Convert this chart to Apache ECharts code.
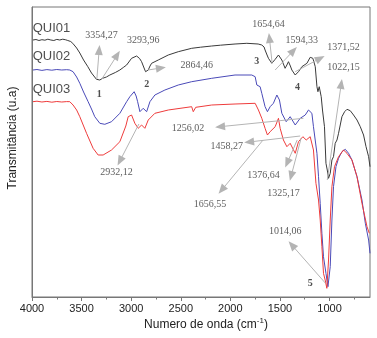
<!DOCTYPE html>
<html><head><meta charset="utf-8">
<script src="https://cdn.jsdelivr.net/npm/echarts@6/dist/echarts.min.js"></script>
<style>html,body{margin:0;padding:0;background:#fff}#c{width:377px;height:338px}</style>
</head><body><div id="c"></div>
<script>
// Wavenumber ticks (cm-1)
var xTicks = [4000, 3500, 3000, 2500, 2000, 1500, 1000];
var xMinorTicks = [3750, 3250, 2750, 2250, 1750, 1250, 750];
var seriesNames = ['QUI01', 'QUI02', 'QUI03'];
// [wavenumber, transmittance (arbitrary units, offset spectra)]
var qui01 = [[3990,257],[3960,257.5],[3930,256.5],[3900,257.3],[3870,256.8],[3840,257.8],[3810,257],[3780,256.5],[3750,257.6],[3720,257],[3690,257.8],[3660,257.2],[3639,256.5],[3610,255.5],[3589,253.7],[3550,249],[3518,244],[3480,237],[3437,230.3],[3400,224],[3350,217.7],[3330,218.7],[3316,217],[3300,218.5],[3289,218.7],[3250,220],[3215,222],[3160,224.5],[3114,227],[3080,229.5],[3046,232],[2996,238.7],[2945,241],[2915,238.5],[2895,235.3],[2870,229],[2855,225.3],[2840,226],[2828,227],[2810,231],[2794,233.7],[2727,237],[2626,242],[2525,245.3],[2390,248.7],[2300,249.8],[2188,251],[2100,251.8],[1953,253],[1834,253.7],[1720,253],[1683,252],[1660,250],[1650,247],[1630,242],[1616,238.7],[1582,233.7],[1548,237.7],[1515,242],[1495,240],[1481,237],[1448,228.7],[1430,232],[1414,235.3],[1395,231],[1380,227],[1346,222],[1330,223],[1313,225.3],[1279,230.3],[1228,233.7],[1195,239.7],[1168,238.7],[1144,230.3],[1127,210.3],[1117,205.3],[1104,210.3],[1084,200.3],[1071,187],[1051,170.3],[1036,133.7],[1023,127],[1010,118.7],[993,123.7],[976,137],[960,140.3],[943,153.7],[925,157],[909,163.7],[892,172],[875,180.3],[848,185.3],[824,187.7],[791,186.3],[758,182],[723,177],[690,170.3],[657,162],[632,150.3],[606,140.3],[592,130.3]];
var qui02 = [[3990,227],[3950,227.5],[3900,226.6],[3850,227.4],[3800,226.8],[3750,227.5],[3700,227],[3650,227.3],[3619,227],[3586,225.3],[3550,220],[3518,213.7],[3480,205],[3434,195.3],[3400,188],[3367,180.3],[3316,173.7],[3266,172.7],[3198,175.3],[3114,183.7],[3046,195.3],[3013,200.3],[2970,205.3],[2950,201],[2935,195.3],[2912,185.3],[2879,188.7],[2844,185.3],[2811,195.3],[2761,202],[2660,207],[2525,212],[2390,215.3],[2188,218.7],[1953,222],[1784,222],[1750,220.3],[1733,212],[1700,210.3],[1683,203.7],[1650,190.3],[1626,185.3],[1599,190.3],[1566,193.7],[1531,202],[1505,197],[1481,183.7],[1437,175.3],[1397,180.3],[1346,172],[1296,178.7],[1245,182],[1212,187],[1178,183.7],[1162,170.3],[1127,143.7],[1111,120.3],[1094,93.7],[1077,63.7],[1061,40.3],[1036,23.7],[1016,10.3],[993,30.3],[976,77],[960,110.3],[935,130.3],[909,138.7],[875,145.3],[841,147.7],[808,143.7],[774,137],[723,120.3],[673,97],[639,73.7],[606,57],[592,43.7]];
var qui03 = [[3990,195.3],[3950,195.8],[3900,195],[3850,195.6],[3800,194.8],[3750,195.5],[3700,195],[3650,195.4],[3619,195.3],[3586,192],[3550,187],[3518,180.3],[3450,163.7],[3384,148.7],[3333,142],[3283,142],[3198,147],[3114,155.3],[3054,171],[3030,180.3],[2996,182],[2963,173.7],[2929,168.7],[2895,172],[2862,168.7],[2828,177],[2761,183.7],[2626,187],[2390,190.3],[2374,185.3],[2349,189.7],[2188,192],[1953,193],[1750,193.7],[1717,187],[1683,178.7],[1650,168.7],[1626,162],[1599,165.3],[1548,170.3],[1515,178.7],[1498,168.7],[1465,157],[1430,150.3],[1397,153.7],[1346,143.7],[1313,155.3],[1269,160.3],[1235,157],[1195,160.3],[1162,147],[1137,113.7],[1111,97],[1094,77],[1077,50.3],[1061,23.7],[1044,17],[1027,8.7],[1010,37],[993,77],[976,110.3],[950,130.3],[909,140.3],[859,147],[824,143.7],[774,137],[723,120.3],[673,93.7],[622,70.3],[599,63.7]];
// Peak annotations: text and where the text sits [wavenumber, value]
var peakTexts = ['3354,27','3293,96','2864,46','1654,64','1594,33','1371,52','1022,15','1256,02','1458,27','2932,12','1656,55','1376,64','1325,17','1014,06'];
var peakTextPos = [[3299,261.3],[2879,256.3],[2339,232],[1616,273],[1279,256.3],[859,249.3],[859,229.7],[2427,168.7],[2036,150.3],[3147,124.7],[2205,92.7],[1667,121.3],[1465,103.7],[1447,65.3]];
var bandNumbers = ['1','2','3','4','5'];
var bandNumberPos = [[3323,203],[2844,213],[1733,236],[1323,209.3],[1195,13.7]];
// Arrows: [from, to] in data coordinates
var arrows = [
  [[3346,218],[3323,247]],[[3296,218],[3141,242]],[[2831,227],[2700,229]],
  [[1579,234],[1606,259]],[[1548,227],[1364,246.3]],[[1346,225.3],[1094,238.7]],
  [[1023,117],[882,213]],[[1263,178.7],[2104,170.3]],[[1296,161],[1811,155]],
  [[2922,173],[3114,136]],[[1670,157],[2087,107]],[[1326,157],[1427,134]],
  [[1286,159],[1387,121]],[[1043,14],[1380,52]]
];
var nameLabelPos = [[3993,268.7],[3993,240.3],[3993,207.7]];

var chart = echarts.init(document.getElementById('c'), null, {renderer:'canvas'});
var colors = ['#3a3a3a','#4a4ab8','#ee3b3b'];
var spectra = [qui01, qui02, qui03];
var series = spectra.map(function(d,i){
  return {type:'line', name:seriesNames[i], data:d, symbol:'none', silent:true,
    lineStyle:{color:colors[i], width:1}, z:3, animation:false};
});
series.push({
  type:'scatter', symbolSize:0, silent:true, animation:false, z:5,
  data: peakTexts.map(function(t,i){return {name:t, value:peakTextPos[i]};}),
  label:{show:true, position:'inside', formatter:'{b}', fontFamily:'Liberation Serif', fontSize:10, color:'#333'},
  markLine:{silent:true, animation:false, symbol:['none','triangle'], symbolSize:[8,10],
    lineStyle:{color:'#b4b4b4', width:1, type:'solid'}, label:{show:false},
    data: arrows.map(function(a){return [{coord:a[0]},{coord:a[1]}];})}
});
series.push({
  type:'scatter', symbolSize:0, silent:true, animation:false, z:5,
  data: bandNumbers.map(function(t,i){return {name:t, value:bandNumberPos[i]};}),
  label:{show:true, position:'inside', formatter:'{b}', fontFamily:'Liberation Serif', fontSize:10, fontWeight:'bold', color:'#222'}
});
series.push({
  type:'scatter', symbolSize:0, silent:true, animation:false, z:5,
  data: seriesNames.map(function(t,i){return {name:t, value:nameLabelPos[i]};}),
  label:{show:true, position:'right', distance:0, formatter:'{b}', fontFamily:'Liberation Sans', fontSize:13, color:'#222'}
});

chart.setOption({
  animation:false,
  grid:{left:32, right:7, top:7, bottom:41, show:true, borderColor:'#777', borderWidth:1},
  xAxis:[{type:'value', inverse:true, min:592, max:4000,
    axisLine:{show:true, lineStyle:{color:'#777'}},
    axisTick:{show:true, length:4, customValues:xTicks, lineStyle:{color:'#777'}},
    splitLine:{show:false},
    axisLabel:{fontFamily:'Liberation Sans', fontSize:11, color:'#222', margin:6, customValues:xTicks,
      formatter:function(v){return String(v);}}
  },{type:'value', inverse:true, min:592, max:4000, position:'bottom',
    axisLine:{show:false},
    axisTick:{show:true, length:2.5, customValues:xMinorTicks, lineStyle:{color:'#777'}},
    splitLine:{show:false}, axisLabel:{show:false}
  }],
  yAxis:{type:'value', min:0, max:290, axisLine:{show:true, lineStyle:{color:'#777'}},
    axisTick:{show:false}, axisLabel:{show:false}, splitLine:{show:false}},
  graphic:[
    {type:'text', x:13, y:138, rotation:Math.PI/2, style:{text:'Transmitância (u.a)', font:'12px "Liberation Sans"', fill:'#222', textAlign:'center', textVerticalAlign:'middle'}},
    {type:'text', x:206, y:325, style:{rich:{n:{fontFamily:'Liberation Sans', fontSize:12, fill:'#222'}, s:{fontFamily:'Liberation Sans', fontSize:8, fill:'#222', verticalAlign:'top', padding:[0,0,8,0]}}, text:'{n|Numero de onda (cm}{s|-1}{n|)}', textAlign:'center', textVerticalAlign:'middle'}}
  ],
  series:series
});
</script></body></html>
